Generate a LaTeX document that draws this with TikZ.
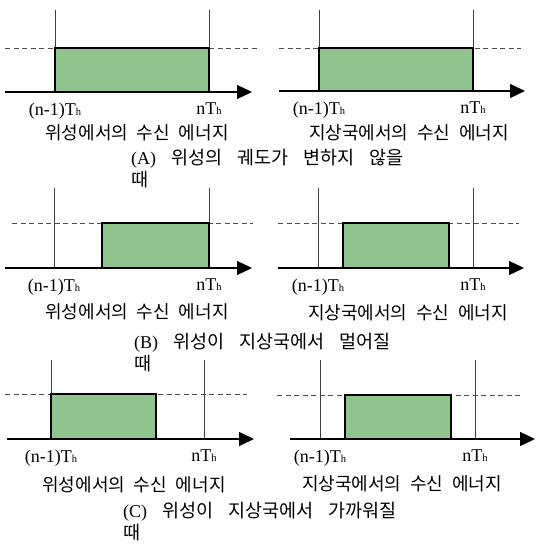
\documentclass[tikz,border=0pt]{standalone}
\usepackage{fontspec}
\setmainfont{Liberation Serif}
\newfontfamily\kr[WordSpace=2.2]{Noto Sans CJK KR}
\usepackage{tikz}
\usetikzlibrary{arrows.meta}
\usetikzlibrary{positioning}

\definecolor{boxgreen}{RGB}{143,196,143}
\newcommand{\Th}{T{\fontsize{10.5}{10.5}\selectfont h}}
\newcommand{\krt}{\kr\fontsize{18.5}{22}\selectfont}
\newcommand{\titlefont}{\fontsize{18}{22}\selectfont\spaceskip 15pt\relax}

\begin{document}
\begin{tikzpicture}[x=1pt,y=-1pt]
\tikzstyle{axis}=[draw=black,line width=1.3pt,-{Triangle[length=15pt,width=14pt]}]
\tikzstyle{tick}=[draw=black!75,line width=0.7pt]
\tikzstyle{level}=[draw=black!70,dash pattern=on 5pt off 3.5pt,line width=0.8pt]
\tikzstyle{energy}=[draw=black,fill=boxgreen,line width=1.2pt]
\tikzstyle{time}=[font=\fontsize{18}{18}\selectfont,inner sep=0pt]
\tikzstyle{caption}=[font=\kr\fontsize{18}{18}\selectfont,inner sep=0pt]
\tikzstyle{title}=[font=\titlefont,inner sep=0pt,anchor=north west,align=left]
\useasboundingbox (0,0) rectangle (536,545);

% (A) satellite
\coordinate (al0) at (5,92);
\coordinate (al1) at (55,92);
\coordinate (al2) at (209,92);
\coordinate (alend) at (252,92);
\draw[tick] (al1) -- ++(0,-82);
\draw[tick] (al2) -- ++(0,-82);
\draw[level] (5,48) -- (258,48);
\draw[energy] (al1) rectangle (209,48);
\draw[axis] (al0) -- (alend);
\node[time,below=11pt of al1] (alp) {(n-1)\Th};
\node[time,below=11pt of al2] (aln) {n\Th};
\node[caption] (alcap) at (137,133) {위성에서의 수신 에너지};

% (A) ground station
\coordinate (ar0) at (279,91);
\coordinate (ar1) at (319,91);
\coordinate (ar2) at (473,91);
\coordinate (arend) at (525,91);
\draw[tick] (ar1) -- ++(0,-81);
\draw[tick] (ar2) -- ++(0,-81);
\draw[level] (279,48) -- (521,48);
\draw[energy] (ar1) rectangle (473,48);
\draw[axis] (ar0) -- (arend);
\node[time,below=11pt of ar1] (arp) {(n-1)\Th};
\node[time,below=11pt of ar2] (arn) {n\Th};
\node[caption] (arcap) at (409,133) {지상국에서의 수신 에너지};

\node[title] (atitle) at (131,149) {(A) {\krt 위성의 궤도가 변하지 않을}\\{\krt 때}};

% (B) satellite
\coordinate (bl0) at (5,268);
\coordinate (bl1) at (54,268);
\coordinate (bl2) at (209,268);
\coordinate (blend) at (252,268);
\draw[tick] (bl1) -- ++(0,-80);
\draw[tick] (bl2) -- ++(0,-80);
\draw[level] (12,223) -- (253,223);
\draw[energy] (102,268) rectangle (209,223);
\draw[axis] (bl0) -- (blend);
\node[time,below=11pt of bl1] (blp) {(n-1)\Th};
\node[time,below=11pt of bl2] (bln) {n\Th};
\node[caption] (blcap) at (137,312) {위성에서의 수신 에너지};

% (B) ground station
\coordinate (br0) at (278,268);
\coordinate (br1) at (318,268);
\coordinate (br2) at (473,268);
\coordinate (brend) at (524,268);
\draw[tick] (br1) -- ++(0,-80);
\draw[tick] (br2) -- ++(0,-80);
\draw[level] (278,223) -- (519,223);
\draw[energy] (343,268) rectangle (449,223);
\draw[axis] (br0) -- (brend);
\node[time,below=11pt of br1] (brp) {(n-1)\Th};
\node[time,below=11pt of br2] (brn) {n\Th};
\node[caption] (brcap) at (408,313) {지상국에서의 수신 에너지};

\node[title] (btitle) at (134,333) {(B) {\krt 위성이 지상국에서 멀어질}\\{\krt 때}};

% (C) satellite
\coordinate (cl0) at (7,439);
\coordinate (cl1) at (51,439);
\coordinate (cl2) at (204,439);
\coordinate (clend) at (254,439);
\draw[tick] (cl1) -- ++(0,-79);
\draw[tick] (cl2) -- ++(0,-79);
\draw[level] (5,394) -- (247,394);
\draw[energy] (cl1) rectangle (156,394);
\draw[axis] (cl0) -- (clend);
\node[time,below=11pt of cl1] (clp) {(n-1)\Th};
\node[time,below=11pt of cl2] (cln) {n\Th};
\node[caption] (clcap) at (134,485) {위성에서의 수신 에너지};

% (C) ground station
\coordinate (cr0) at (290,439);
\coordinate (cr1) at (320,439);
\coordinate (cr2) at (475,439);
\coordinate (crend) at (535,439);
\draw[tick] (cr1) -- ++(0,-79);
\draw[tick] (cr2) -- ++(0,-79);
\draw[level] (277,395) -- (521,395);
\draw[energy] (345,439) rectangle (451,395);
\draw[axis] (cr0) -- (crend);
\node[time,below=11pt of cr1] (crp) {(n-1)\Th};
\node[time,below=11pt of cr2] (crn) {n\Th};
\node[caption] (crcap) at (402,484) {지상국에서의 수신 에너지};

\node[title] (ctitle) at (123,502) {(C) {\krt 위성이 지상국에서 가까워질}\\{\krt 때}};
\end{tikzpicture}
\end{document}
